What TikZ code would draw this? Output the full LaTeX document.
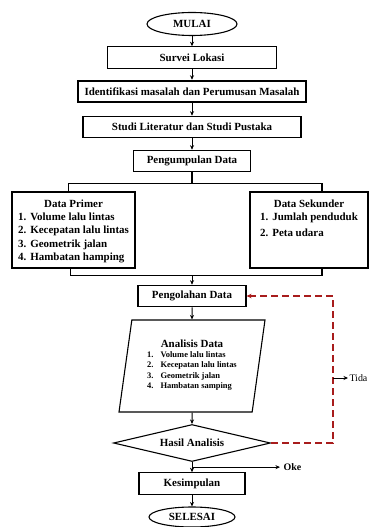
\documentclass[tikz,border=0pt]{standalone}
\usepackage{fontspec}
\setmainfont{Liberation Serif}
\usepackage{xcolor}
\usepackage{tikz}
\usetikzlibrary{shapes.geometric, arrows.meta, positioning, calc}
\definecolor{loopred}{RGB}{168,28,28}
\tikzset{
  termbox/.style={ellipse, draw, line width=1.1pt, minimum width=90bp,
                  minimum height=23bp, inner sep=0pt},
  procbox/.style={rectangle, draw, line width=1.1pt, minimum height=21.5bp,
                  inner sep=0pt},
  databox/.style={rectangle, draw, line width=1.1pt, minimum height=76bp},
  listtxt/.style={inner sep=0pt, align=left},
  iobox/.style={trapezium, trapezium left angle=76, trapezium right angle=104,
                trapezium stretches body, draw, line width=1.1pt, align=center,
                minimum width=146bp, minimum height=92bp, inner sep=0pt},
  condbox/.style={diamond, draw, line width=1.1pt, aspect=4.2, minimum width=157bp,
                  minimum height=37bp, inner sep=0pt},
  arr/.style={-{Stealth[length=4.5bp, width=4bp]}, line width=1pt},
  joinline/.style={line width=1.1pt},
  looparr/.style={-{Stealth[length=5bp, width=4.5bp]}, dash pattern=on 7bp off 4bp,
                  loopred, line width=1.5pt},
}

\begin{document}
\begin{tikzpicture}[x=1bp,y=-1bp,font=\fontsize{11}{13.5}\selectfont\bfseries]
      \useasboundingbox (0,0) rectangle (374,527);

      % X positions
      \def\xC{192}
      \def\xP{73.5}
      \def\xS{309}

      % Main column
      \node[termbox] (mulai) at (\xC,24) {MULAI};
      \node[procbox, minimum width=169bp] (survei) at (\xC,57.5) {Survei Lokasi};
      \node[procbox, minimum width=228bp, line width=2pt] (ident) at (\xC,91.5) {Identifikasi masalah dan Perumusan Masalah};
      \node[procbox, minimum width=218bp] (studi) at (\xC,127) {Studi Literatur dan Studi Pustaka};
      \node[procbox, minimum width=117bp] (kumpul) at (\xC,161) {Pengumpulan Data};

      % Data boxes
      \node[databox, minimum width=123bp] (primer) at (\xP,230) {};
      \node[databox, minimum width=118bp] (sekunder) at (\xS,230) {};
      \node[listtxt, anchor=north] (primertxt) at ([yshift=-6bp]primer.north) {%
            \begin{tabular}{@{}l@{\hspace{4bp}}l@{}}
            \multicolumn{2}{c}{Data Primer}\\
            1.&Volume lalu lintas\\
            2.&Kecepatan lalu lintas\\
            3.&Geometrik jalan\\
            4.&Hambatan hamping
            \end{tabular}};
      \node[listtxt, anchor=north] (sekundertxt) at ([yshift=-6bp]sekunder.north) {%
            \begin{tabular}{@{}l@{\hspace{4bp}}l@{}}
            \multicolumn{2}{c}{Data Sekunder}\\
            1.&Jumlah penduduk\\[3bp]
            2.&Peta udara
            \end{tabular}};

      \node[procbox, minimum width=108bp] (olah) at (\xC,296) {Pengolahan Data};
      \node[iobox] (analisis) at (\xC,366) {%
            Analisis Data\\[1bp]
            {\fontsize{8.5}{10.5}\selectfont
            \begin{tabular}{@{}l@{\hspace{7bp}}l@{}}
            1.&Volume lalu lintas\\
            2.&Kecepatan lalu lintas\\
            3.&Geometrik jalan\\
            4.&Hambatan samping
            \end{tabular}}};
      \node[condbox] (hasil) at (\xC,443) {Hasil Analisis};
      \node[procbox, minimum width=106bp] (kesim) at (\xC,483.5) {Kesimpulan};
      \node[termbox, minimum width=86bp, minimum height=20bp] (selesai) at (\xC,517) {SELESAI};

      % Arrows down the main column
      \draw[arr] (mulai) -- (survei);
      \draw[arr] (survei) -- (ident);
      \draw[arr] (ident) -- (studi);
      \draw[arr] (studi) -- (kumpul);

      % Split and merge of the data boxes
      \draw[joinline] (kumpul.south) -- ++(0,11) coordinate (split)
            -| ([xshift=-5bp]primer.north);
      \draw[joinline] (split) -| ([xshift=13bp]sekunder.north);
      \draw[joinline] ([xshift=-3bp]primer.south) -- ++(0,7) coordinate (mergeL)
            -| ([xshift=13bp]sekunder.south);
      \draw[arr] (mergeL -| olah.north) -- (olah.north);

      \draw[arr] (olah) -- (analisis);
      \draw[arr] (analisis) -- (hasil);
      \draw[arr] (hasil) -- (kesim);
      \draw[arr] (kesim) -- (selesai);

      % Oke / Tida
      \draw[arr] ($(hasil.south)!0.5!(kesim.north)$) -- ++(88,0)
            node[right, inner sep=3bp, font=\fontsize{10}{12}\selectfont\bfseries] (oke) {Oke};
      \draw[looparr] (hasil.east) -- (\xC+141,443) coordinate (loopc) |- (olah.east);
      \draw[arr] (loopc |- 0,378) -- ++(15,0)
            node[right, inner sep=1bp, font=\fontsize{10}{12}\selectfont\mdseries] (tida) {Tida};

\end{tikzpicture}
\end{document}
